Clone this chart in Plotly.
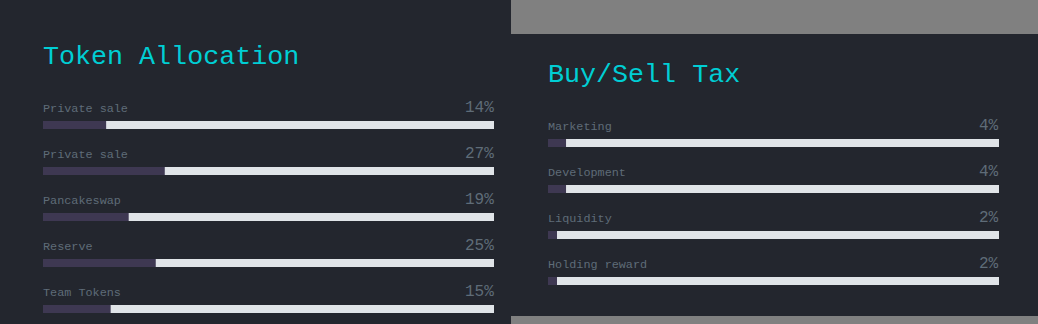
import plotly.graph_objects as go

# ---- data ----
alloc_labels = ["Private sale", "Private sale", "Pancakeswap", "Reserve", "Team Tokens"]
alloc_values = [14, 27, 19, 25, 15]
tax_labels = ["Marketing", "Development", "Liquidity", "Holding reward"]
tax_values = [4, 4, 2, 2]
track_total = 100
title_left = "Token Allocation"
title_right = "Buy/Sell Tax"

# ---- style ----
W, H = 1038, 324
BG = "#23262e"
GRAY = "#808080"
CYAN = "#00ced4"
LABEL = "#5f6c78"
FILL = "#3e3852"
TRACK = "#e0e4e8"
FONT = "Liberation Mono, DejaVu Sans Mono, monospace"
PITCH = 46.0
BAR_PX = 8.0

fig = go.Figure()

def ann(**kw):
    fig.add_annotation(showarrow=False, borderpad=0, borderwidth=0, **kw)

def add_panel(labels, values, xa, ya):
    n = len(labels)
    ys = list(range(n))
    fig.add_trace(go.Bar(x=[track_total] * n, y=ys, orientation="h", marker_color=TRACK,
                         marker_line_width=0, width=BAR_PX / PITCH, xaxis=xa, yaxis=ya,
                         hoverinfo="skip", showlegend=False))
    fig.add_trace(go.Bar(x=values, y=ys, orientation="h", marker_color=FILL,
                         marker_line_width=0, width=BAR_PX / PITCH, xaxis=xa, yaxis=ya,
                         hoverinfo="skip", showlegend=False))
    xr = "x" if xa == "x" else "x2"
    yr = "y" if ya == "y" else "y2"
    for i, (lab, v) in enumerate(zip(labels, values)):
        ann(x=0, y=i - 16.5 / PITCH, xref=xr, yref=yr, text=lab,
            xanchor="left", yanchor="middle",
            font=dict(family=FONT, size=11.8, color=LABEL))
        ann(x=track_total, y=i - 17 / PITCH, xref=xr, yref=yr, text=f"{v}%",
            xanchor="right", yanchor="middle",
            font=dict(family=FONT, size=16, color=LABEL))

add_panel(alloc_labels, alloc_values, "x", "y")
add_panel(tax_labels, tax_values, "x2", "y2")

def yrange(c0):
    return [(H - c0) / PITCH, -c0 / PITCH]

fig.update_layout(
    width=W, height=H, margin=dict(l=0, r=0, t=0, b=0),
    paper_bgcolor=GRAY, plot_bgcolor="rgba(0,0,0,0)",
    barmode="overlay",
    xaxis=dict(domain=[43 / W, 494 / W], range=[0, track_total], visible=False, fixedrange=True),
    yaxis=dict(domain=[0, 1], range=yrange(125), visible=False, fixedrange=True),
    xaxis2=dict(domain=[548 / W, 999 / W], range=[0, track_total], visible=False, fixedrange=True),
    yaxis2=dict(domain=[0, 1], range=yrange(143), visible=False, fixedrange=True, anchor="x2"),
    shapes=[
        dict(type="rect", xref="paper", yref="paper", x0=0, x1=511 / W, y0=0, y1=1,
             fillcolor=BG, line_width=0, layer="below"),
        dict(type="rect", xref="paper", yref="paper", x0=511 / W, x1=1, y0=1 - 316 / H, y1=1 - 34 / H,
             fillcolor=BG, line_width=0, layer="below"),
    ],
)
ann(x=43 / W, y=1 - 57 / H, xref="paper", yref="paper", text=title_left,
    xanchor="left", yanchor="middle",
    font=dict(family=FONT, size=26.7, color=CYAN))
ann(x=548 / W, y=1 - 74.5 / H, xref="paper", yref="paper", text=title_right,
    xanchor="left", yanchor="middle",
    font=dict(family=FONT, size=26.7, color=CYAN))

fig.write_html("out.html", config={"displayModeBar": False})
